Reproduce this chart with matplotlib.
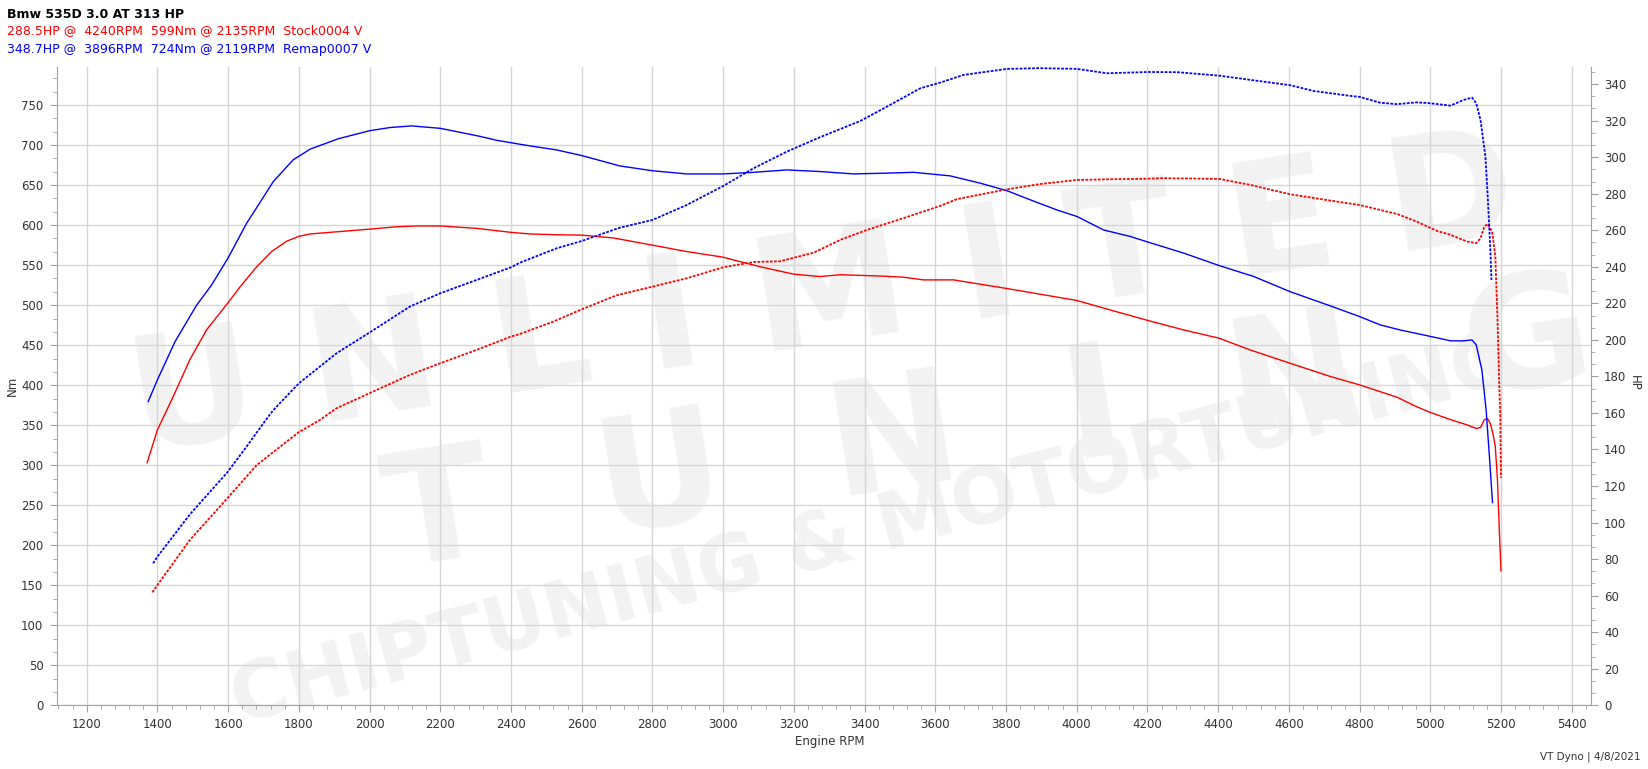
import matplotlib
matplotlib.use("Agg")
import matplotlib.pyplot as plt
from matplotlib.ticker import MultipleLocator, AutoMinorLocator

# ---------------- data ----------------
stock_nm_rpm = [1371, 1400, 1445, 1492, 1539, 1598, 1634, 1681, 1723, 1766, 1800, 1832, 1916, 2000,
                2077, 2135, 2200, 2303, 2400, 2454, 2529, 2600, 2690, 2800, 2897, 3000, 3029, 3105,
                3200, 3274, 3331, 3435, 3510, 3567, 3652, 3803, 3869, 4001, 4095, 4202, 4303, 4403,
                4491, 4603, 4718, 4800, 4906, 4962, 5000, 5057, 5104, 5130, 5142, 5153, 5162, 5170,
                5178, 5184, 5190, 5196, 5200]
stock_nm = [303, 344, 386, 432, 469, 502, 523, 548, 567, 580, 586, 589, 592, 595,
            598, 599, 599, 596, 591, 589, 588, 587.5, 584, 575, 567, 560, 556.6, 548,
            538.7, 535.8, 538, 536.6, 535, 531.6, 531.6, 520.8, 515.8, 505.8, 494, 480.8, 469, 458.7,
            444, 427.5, 410.8, 400.4, 385, 373, 366, 357, 350.4, 346, 347, 357, 358, 352,
            338, 323, 282, 211, 168]

stock_hp_rpm = [1386, 1400, 1492, 1598, 1681, 1800, 1860, 1907, 2000, 2114, 2200, 2303, 2400, 2425,
                2520, 2600, 2699, 2800, 2897, 3000, 3086, 3161, 3256, 3331, 3407, 3510, 3614, 3661,
                3803, 3897, 4001, 4095, 4202, 4240, 4275, 4403, 4491, 4603, 4718, 4800, 4906, 4962,
                5019, 5057, 5104, 5130, 5142, 5153, 5162, 5175, 5184, 5190, 5195, 5198, 5200]
stock_hp = [61.8, 65.8, 90.5, 113.3, 131.5, 149.5, 156.2, 162.6, 170.8, 180.8, 187.2, 194.5, 201.8, 203.2,
            210, 216.7, 224.4, 229.1, 233.7, 239.7, 242.6, 243, 247.7, 254.7, 260.2, 266.6, 273.3, 277,
            282.4, 285.3, 287.5, 287.9, 288.2, 288.5, 288.4, 288.1, 284.8, 279.7, 276.2, 273.8, 268.9, 264.7,
            259.6, 257.5, 253.8, 252.9, 255.6, 262, 263.4, 259.2, 245.5, 212.7, 176.2, 158, 124.4]

remap_nm_rpm = [1374, 1400, 1450, 1511, 1553, 1600, 1652, 1728, 1784, 1832, 1912, 2000, 2058, 2119,
                2200, 2256, 2312, 2360, 2400, 2454, 2529, 2600, 2708, 2800, 2897, 3000, 3086, 3180,
                3274, 3369, 3463, 3539, 3642, 3727, 3803, 3869, 3944, 4001, 4076, 4152, 4202, 4303,
                4403, 4501, 4603, 4718, 4800, 4858, 4915, 5000, 5057, 5094, 5118, 5130, 5146, 5158,
                5168, 5176]
remap_nm = [379.5, 406.6, 454.5, 500, 525, 559, 602, 654.5, 681.6, 695, 708, 718, 722, 724,
            721, 716, 711, 706, 703, 699, 694, 687, 674, 668, 664, 664, 666, 669,
            667, 664, 665, 666, 661.6, 652.5, 643, 631.6, 619, 610.8, 594, 585.8, 578.8, 565,
            549.5, 535.8, 517, 499, 485.8, 475.4, 469, 461, 455.5, 455.4, 456.6, 450.4, 419, 369,
            306.6, 253.3]

remap_hp_rpm = [1388, 1400, 1492, 1598, 1652, 1700, 1728, 1800, 1907, 2000, 2114, 2200, 2303, 2400,
                2425, 2529, 2600, 2708, 2800, 2897, 3000, 3086, 3180, 3274, 3388, 3463, 3558, 3614,
                3680, 3803, 3896, 4001, 4086, 4202, 4284, 4403, 4529, 4603, 4671, 4775, 4800, 4858,
                4906, 4962, 5000, 5057, 5094, 5118, 5130, 5142, 5156, 5163, 5170, 5173]
remap_hp = [77.7, 81.3, 104.5, 127.5, 141.5, 154.4, 161.6, 176.2, 192.7, 204, 218.2, 225.5, 232.8, 239.7,
            242.2, 250.1, 254.1, 261.4, 265.6, 273.8, 284.2, 293.9, 303, 310.9, 319.8, 327.6, 337.7, 340.8,
            345, 348.3, 348.7, 348.3, 345.9, 346.6, 346.5, 344.6, 341.3, 339.4, 336.2, 333.5, 333, 329.8,
            329, 330, 329.5, 328.2, 331.3, 332.6, 329.5, 320.4, 300.3, 276.6, 249.2, 232.8]

title = "Bmw 535D 3.0 AT 313 HP"
stock_label = "288.5HP @  4240RPM  599Nm @ 2135RPM  Stock0004 V"
remap_label = "348.7HP @  3896RPM  724Nm @ 2119RPM  Remap0007 V"
footer = "VT Dyno | 4/8/2021"
watermark = ["U N L I M I T E D", "T  U  N  I  N  G", "CHIPTUNING & MOTORTUNING"]

# ---------------- figure ----------------
W, H = 1648, 769
fig = plt.figure(figsize=(W / 100, H / 100), dpi=100)
fig.patch.set_facecolor("white")

left, right, top, bottom = 57.3, 1591.5, 66.7, 705.3
ax = fig.add_axes([left / W, 1 - bottom / H, (right - left) / W, (bottom - top) / H])
ax.set_facecolor("none")
ax2 = ax.twinx()

# watermark
wm = "#f2f2f2"
fig.text(0.50, 0.61, watermark[0], rotation=9, fontsize=112, color=wm,
         ha="center", va="center", fontweight="bold", zorder=-5, rotation_mode="anchor")
fig.text(0.60, 0.44, watermark[1], rotation=9, fontsize=112, color=wm,
         ha="center", va="center", fontweight="bold", zorder=-5, rotation_mode="anchor")
fig.text(0.53, 0.31, watermark[2], rotation=15, fontsize=56, color=wm,
         ha="center", va="center", fontweight="bold", zorder=-5, rotation_mode="anchor")

red = "#ff0000"
blue = "#0000ff"

ax.plot(stock_nm_rpm, stock_nm, color=red, lw=1.0, zorder=3)
ax.plot(remap_nm_rpm, remap_nm, color=blue, lw=1.0, zorder=3)
ax2.plot(stock_hp_rpm, stock_hp, color=red, lw=1.3, ls=(0, (1.5, 0.8)), zorder=3)
ax2.plot(remap_hp_rpm, remap_hp, color=blue, lw=1.3, ls=(0, (1.5, 0.8)), zorder=3)

ax.set_xlim(1117, 5456)
ax.set_ylim(0, 798)
ax2.set_ylim(0, 349.5)

ax.xaxis.set_major_locator(MultipleLocator(200))
ax.xaxis.set_minor_locator(MultipleLocator(40))
ax.yaxis.set_major_locator(MultipleLocator(50))
ax.yaxis.set_minor_locator(AutoMinorLocator(3))
ax2.yaxis.set_major_locator(MultipleLocator(20))
ax2.yaxis.set_minor_locator(AutoMinorLocator(3))

ax.set_axisbelow(True)
ax.grid(True, which="major", color="#d6d6d6", lw=1.0)

spine_c = "#a0a0a0"
for a in (ax, ax2):
    for s in a.spines.values():
        s.set_color(spine_c)
    a.spines["top"].set_visible(False)
ax.spines["right"].set_visible(False)
ax2.spines["left"].set_visible(False)
ax2.spines["bottom"].set_visible(False)

tick_kw = dict(colors=spine_c, labelcolor="#333333", labelsize=8.5, direction="out")
ax.tick_params(axis="x", which="major", length=5, pad=4.5, **tick_kw)
ax.tick_params(axis="x", which="minor", length=3, colors=spine_c, direction="out")
ax.tick_params(axis="y", which="major", length=5, pad=5, **tick_kw)
ax.tick_params(axis="y", which="minor", length=3, colors=spine_c, direction="out")
ax2.tick_params(axis="y", which="major", length=5, pad=4, **tick_kw)
ax2.tick_params(axis="y", which="minor", length=3, colors=spine_c, direction="out")

ax.set_yticks(range(0, 751, 50))
ax2.set_yticks(range(0, 341, 20))

fig.text(830 / W, 1 - 741 / H, "Engine RPM", ha="center", va="center", fontsize=8.5, color="#333333")
fig.text(12.6 / W, 1 - 386 / H, "Nm", ha="center", va="center", rotation=90, fontsize=8.5, color="#333333")
fig.text(1634 / W, 1 - 383 / H, "HP", ha="center", va="center", rotation=270, fontsize=8.5, color="#333333")

fig.text(7.5 / W, 1 - 17.7 / H, title, ha="left", va="baseline", fontsize=9, fontweight="bold", color="#000000")
fig.text(7.5 / W, 1 - 34.5 / H, stock_label, ha="left", va="baseline", fontsize=9, color=red)
fig.text(7.5 / W, 1 - 52.8 / H, remap_label, ha="left", va="baseline", fontsize=9, color=blue)
fig.text(1641 / W, 1 - 757 / H, footer, ha="right", va="center", fontsize=7.5, color="#333333")

fig.savefig("out.png", dpi=100)
